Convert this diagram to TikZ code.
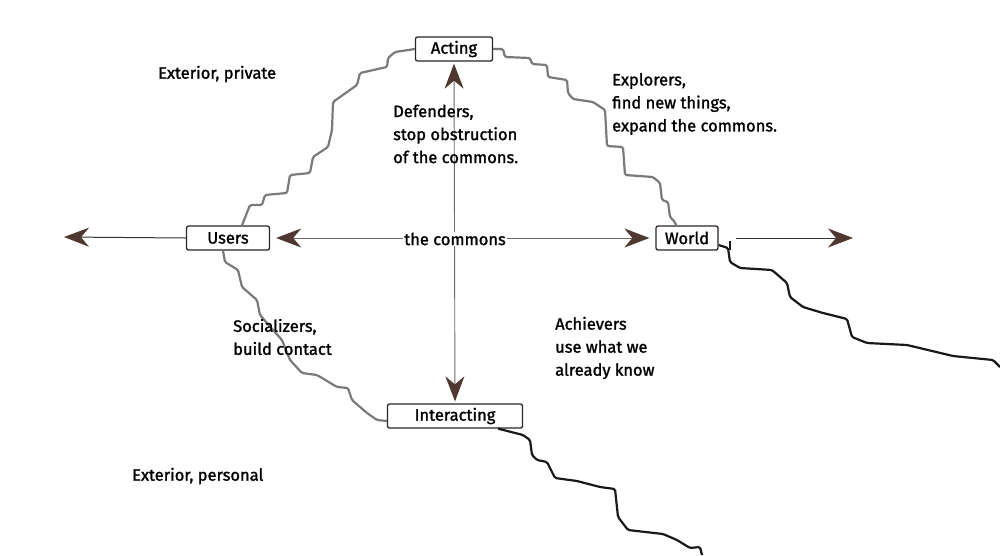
\documentclass[tikz,border=0pt]{standalone}
\usepackage{fontspec}
\setmainfont{Fira Sans}[FakeBold=1.4]
\usetikzlibrary{arrows.meta,positioning,calc}
\definecolor{tipbrown}{RGB}{78,56,48}
\definecolor{ringgray}{RGB}{122,122,122}
\definecolor{boxline}{RGB}{45,38,34}
\definecolor{axisgray}{RGB}{110,105,100}

\begin{document}
\begin{tikzpicture}[x=1pt, y=-1pt,
  place/.style={draw=boxline, line width=1.3pt, fill=white, rounded corners=2pt,
    inner sep=0pt, minimum height=24pt, font=\fontsize{16.5}{18}\selectfont},
  note/.style={align=left, inner sep=0pt, font=\fontsize{16.5}{23}\selectfont},
  bigtip/.tip={Stealth[length=25pt, width=19pt, inset=8pt, color=tipbrown, fill=tipbrown]},
  axis/.style={draw=axisgray, line width=0.9pt, bigtip-bigtip},
  outer/.style={draw=black!80, line width=1pt, -bigtip},
  ringline/.style={draw=ringgray, line width=2.2pt, line join=round, rounded corners=1.5pt},
  edgeline/.style={draw=black!90, line width=2.2pt, line join=round, rounded corners=1.5pt}
]
\useasboundingbox (0,0) rectangle (1000,555);

% ----------------------
% Quadrant boxes
% ----------------------
\node[place, minimum width=77pt] (acting) at (454,49) {Acting};
\node[place, minimum width=83pt] (users) at (228,238) {Users};
\node[place, minimum width=62pt] (world) at (687,238) {World};
\node[place, minimum width=135pt] (interacting) at (455,416) {Interacting};

% ----------------------
% Free ends
% ----------------------
\coordinate (farleft) at (64,237);
\coordinate (farright) at (853,238);
\coordinate (bottomend) at (702,555);
\coordinate (rightend) at (1000,367);

% ----------------------
% Axes
% ----------------------
\draw[axis, shorten <=2pt, shorten >=2pt] (interacting.north) -- (acting.south);
\draw[axis, shorten <=6pt, shorten >=6pt] (users.east) -- (world.west);
\node[fill=white, inner sep=1pt, font=\fontsize{16.5}{18}\selectfont] (commons) at (455,239) {the commons};

\draw[outer] (users.west) -- (farleft);
\draw[outer, shorten <=17pt] (world.east |- farright) -- (farright);

% ----------------------
% Stepped ring
% ----------------------
\draw[ringline] (acting.west) -- (395,52) -- (388,58) -- (387,67) -- (360,73)
  -- (357,85) -- (333,102) -- (332,130) -- (328,147) -- (313,157) -- (310,173)
  -- (290,175) -- (287,193) -- (265,195) -- (262,205) -- (250,205)
  -- ([xshift=14pt]users.north);

\draw[ringline] (acting.east) -- (503,49) -- (505,57) -- (530,58) -- (532,64)
  -- (547,65) -- (548,77) -- (567,80) -- (568,93) -- (573,99) -- (593,102)
  -- (605,110) -- (607,146) -- (623,147) -- (625,175) -- (653,177) -- (660,183)
  -- (662,200) -- (668,202) -- (670,217) -- (675,222) -- ([xshift=-11pt]world.north);

\draw[ringline] ([xshift=-5pt]users.south) -- (225,262) -- (238,270) -- (242,287)
  -- (257,300) -- (260,315) -- (273,330) -- (282,340) -- (290,360) -- (302,373)
  -- (317,375) -- (337,387) -- (348,388) -- (352,400) -- (367,413) -- (377,420)
  -- ([yshift=-5pt]interacting.west);

% ----------------------
% Outgoing edges
% ----------------------
\draw[edgeline] ([xshift=-25pt]interacting.south east) -- (523,435) -- (530,440)
  -- (532,455) -- (537,460) -- (547,462) -- (555,478) -- (577,481) -- (600,487)
  -- (615,489) -- (618,517) -- (628,530) -- (663,534) -- (677,540) -- (690,548)
  -- (700,547) -- (bottomend);

\draw[edgeline] ([yshift=-7pt]world.east) -- (728,248) -- (730,262) -- (740,268)
  -- (772,270) -- (787,283) -- (790,297) -- (803,307) -- (823,313) -- (847,319)
  -- (852,337) -- (867,343) -- (907,345) -- (953,356) -- (993,360) -- (rightend);
\draw[edgeline, line width=1.6pt] (730,241) -- (730,250);

% ----------------------
% Quadrant texts
% ----------------------
\node[note, anchor=west] (private) at (158,74) {Exterior, private};
\node[note, anchor=west] (personal) at (132,476) {Exterior, personal};
\node[note, anchor=west] (defenders) at (393,134)
  {Defenders,\\stop obstruction\\of the commons.};
\node[note, anchor=west] (explorers) at (612,104)
  {Explorers,\\find new things,\\expand the commons.};
\node[note, anchor=west] (socializers) at (233,337)
  {Socializers,\\build contact};
\node[note, anchor=west] (achievers) at (555,348)
  {Achievers\\use what we\\already know};

\end{tikzpicture}
\end{document}
